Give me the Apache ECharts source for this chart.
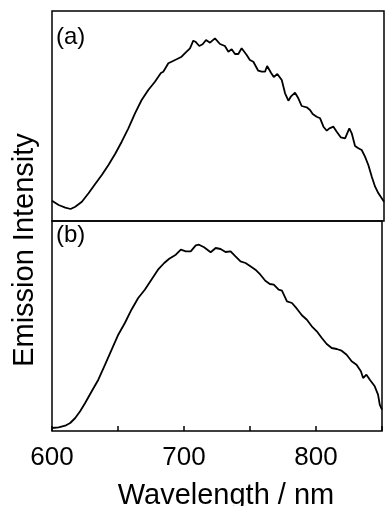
<!DOCTYPE html>
<html>
<head>
<meta charset="utf-8">
<script src="https://cdn.jsdelivr.net/npm/echarts@6/dist/echarts.min.js"></script>
<style>
  html, body { margin: 0; padding: 0; background: #fff; }
  #chart { width: 385px; height: 506px; }
</style>
</head>
<body>
<div id="chart"></div>
<script>
// wavelength (nm) / emission intensity (a.u.)
const wavelengthA = [600, 605, 610, 614, 617.5, 622.5, 627.5, 632.5, 637.5, 642.5, 647.5, 652.5, 657.5, 662.5, 667.5, 672.5, 677.5, 682, 683.8, 687.6, 690, 693.8, 697.6, 700, 703.9, 706.4, 708, 710.9, 713.4, 716, 719, 722.7, 726.5, 730.2, 732.8, 735.3, 737.8, 740.3, 742.8, 746.6, 749, 751.6, 755.3, 757.9, 760.4, 762, 765, 767, 769.7, 773, 775.5, 778, 779.8, 783, 785.5, 788, 791.8, 794.3, 796.3, 799.3, 801.9, 804.4, 806.9, 808.9, 811.9, 814.4, 817.4, 820.7, 823.9, 825.7, 828.2, 830.7, 833.2, 835.7, 838.2, 840.8, 843.3, 845.8, 848.3, 850];
const intensityA = [20.3, 16, 13.3, 12, 14.3, 19.3, 27.7, 37, 46, 56, 67, 79.3, 92.7, 107.7, 121, 131, 139.3, 148, 149.3, 157.7, 159.3, 161.7, 164.3, 167.7, 172.7, 180.3, 179.3, 175, 176.7, 181, 178.3, 182.7, 177, 175, 169.3, 171.7, 167, 167, 172.7, 166, 161, 159.3, 150.3, 149.3, 149.3, 155, 148, 144, 147, 141, 127.7, 120.3, 124.3, 128.3, 122.7, 115, 113.7, 111, 107, 104.3, 102.7, 94.3, 90.3, 92.7, 94.3, 89.3, 83.7, 82.7, 92.7, 87.7, 75, 72.7, 71, 64.3, 56, 44.3, 34.3, 27.7, 22.7, 19.3];

const wavelengthB = [600, 605, 610, 613.8, 617.6, 621.3, 625.1, 630.1, 635.1, 640.2, 645.2, 650.2, 655.2, 660.2, 665.3, 670.3, 675.3, 680.3, 685, 688.8, 693.8, 697.6, 701.4, 705.1, 708.9, 711.4, 715.2, 720.2, 724, 727.7, 731.5, 735.3, 739, 742.8, 746.6, 750.3, 754.1, 757.9, 761.6, 765, 768, 771.7, 774.2, 778, 781.8, 785.5, 789.3, 793.1, 796.8, 800.6, 804.4, 808.1, 811.9, 815.7, 819.4, 823.2, 827, 830.7, 834, 835.7, 838.2, 840.8, 844.5, 847, 848.3, 850];
const intensityB = [3, 3.7, 5.3, 8, 13, 19.7, 28, 39.7, 51.3, 66.3, 81.3, 96.3, 108, 121.3, 133, 141.3, 151.3, 161.3, 168, 172.3, 176.3, 181.3, 179.7, 179.7, 185.7, 186.3, 183.7, 178.7, 183, 182, 179, 179.7, 174.7, 169.7, 168, 164.7, 161.3, 156.3, 150.3, 147, 146.3, 141.3, 140.3, 129.7, 128, 122.3, 115.7, 111.3, 104.7, 99.7, 93, 87, 83, 82, 80.3, 76.3, 69.7, 66.3, 59.7, 53, 56.3, 51.3, 44.7, 36.3, 26.3, 21.3];

const panelLabels = ["(a)", "(b)"];
const xTicks = [600, 700, 800];

const font = "'Liberation Sans', Arial, sans-serif";

const pairs = (xs, ys) => xs.map((x, i) => [x, ys[i]]);

const baseX = {
  type: "value",
  min: 600,
  max: 850,
  interval: 50,
  splitLine: { show: false },
  axisLine: { show: false },
};
const baseY = {
  type: "value",
  min: 0,
  max: 210,
  axisLine: { show: false },
  axisTick: { show: false },
  axisLabel: { show: false },
  splitLine: { show: false },
};
const lineSeries = {
  type: "line",
  showSymbol: false,
  symbol: "none",
  smooth: false,
  lineStyle: { color: "#000", width: 1.8 },
  silent: true,
};

const option = {
  animation: false,
  backgroundColor: "#fff",
  grid: [
    { left: 52, right: 1, top: 11, height: 210, show: true, borderColor: "#000", borderWidth: 1.5 },
    { left: 52, right: 1, top: 221, height: 210, show: true, borderColor: "#000", borderWidth: 1.5 },
  ],
  xAxis: [
    {
      ...baseX,
      gridIndex: 0,
      axisTick: { show: false },
      axisLabel: { show: false },
    },
    {
      ...baseX,
      gridIndex: 1,
      axisTick: { show: true, inside: true, length: 5, lineStyle: { color: "#000", width: 1.5 } },
      axisLabel: {
        show: true,
        margin: 14,
        color: "#000",
        fontSize: 26,
        fontFamily: font,
        formatter: (v) => (xTicks.includes(v) ? String(v) : ""),
      },
    },
  ],
  yAxis: [
    { ...baseY, gridIndex: 0 },
    { ...baseY, gridIndex: 1 },
  ],
  series: [
    { ...lineSeries, xAxisIndex: 0, yAxisIndex: 0, data: pairs(wavelengthA, intensityA) },
    { ...lineSeries, xAxisIndex: 1, yAxisIndex: 1, data: pairs(wavelengthB, intensityB) },
  ],
  graphic: [
    {
      type: "text",
      left: 56,
      top: 25,
      style: { text: panelLabels[0], fontSize: 24, fontFamily: font, fill: "#000" },
    },
    {
      type: "text",
      left: 56,
      top: 223,
      style: { text: panelLabels[1], fontSize: 24, fontFamily: font, fill: "#000" },
    },
    {
      type: "text",
      x: 226,
      y: 496,
      style: {
        text: "Wavelength / nm",
        fontSize: 29,
        fontFamily: font,
        fill: "#000",
        align: "center",
        verticalAlign: "middle",
      },
    },
    {
      type: "text",
      x: 25,
      y: 250,
      rotation: Math.PI / 2,
      style: {
        text: "Emission Intensity",
        fontSize: 29,
        fontFamily: font,
        fill: "#000",
        align: "center",
        verticalAlign: "middle",
      },
    },
  ],
};

const chart = echarts.init(document.getElementById("chart"));
chart.setOption(option);
</script>
</body>
</html>
